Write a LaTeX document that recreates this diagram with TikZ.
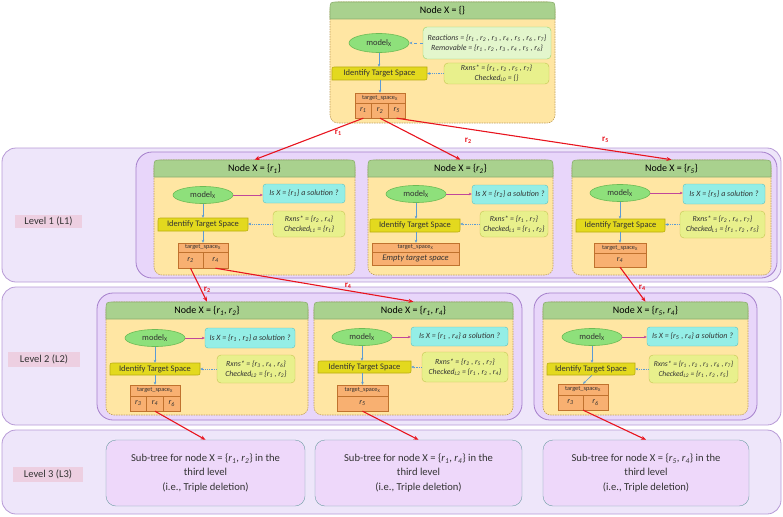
\documentclass[tikz,border=0pt]{standalone}
\usepackage{fontspec}
\setmainfont{Carlito}
\usetikzlibrary{calc,arrows.meta,shapes.geometric}
\definecolor{bandfill}{HTML}{EEE6FA}
\definecolor{banddraw}{HTML}{B79AD6}
\definecolor{contfill}{HTML}{E8D6FA}
\definecolor{contdraw}{HTML}{A57FCB}
\definecolor{lvlfill}{HTML}{EDCFE1}
\definecolor{hdrfill}{HTML}{A9D18E}
\definecolor{hdrdraw}{HTML}{8BAE6E}
\definecolor{bodyfill}{HTML}{FFE6A3}
\definecolor{bodydraw}{HTML}{BF9F5F}
\definecolor{ellfill}{HTML}{8EE07B}
\definecolor{elldraw}{HTML}{6CBB55}
\definecolor{reacfill}{HTML}{E3F6CC}
\definecolor{reacdraw}{HTML}{93D36B}
\definecolor{idfill}{HTML}{E3D91E}
\definecolor{iddraw}{HTML}{B9AD10}
\definecolor{rxfill}{HTML}{E8F08C}
\definecolor{rxdraw}{HTML}{C3C450}
\definecolor{cyfill}{HTML}{94EEE6}
\definecolor{cydraw}{HTML}{5BBFC0}
\definecolor{tgfill}{HTML}{F8B071}
\definecolor{tgdraw}{HTML}{C0722E}
\definecolor{redarr}{HTML}{E8141E}
\definecolor{bluearr}{HTML}{5B9BD5}
\definecolor{magarr}{HTML}{C0479A}
\definecolor{lthfill}{HTML}{EED8FA}
\definecolor{lthdraw}{HTML}{6E9EA4}
\definecolor{txt}{HTML}{333333}
\newcommand\ri[1]{\textit{r}\textsubscript{\textit{#1}}}
\newcommand\bx[7]{\node[#2,minimum width={(#5-#3)*1pt},minimum height={(#6-#4)*1pt},inner sep=0pt] (#1) at ({(#3+#5)/2},{(#4+#6)/2}) {#7};}
\newcommand\frm[6]{%
  \bx{#1}{body}{#2}{#3}{#4}{#5}{}
  \filldraw[hdr] (#2,{#3+17}) -- (#2,{#3+8}) .. controls (#2,#3) .. ({#2+8},#3) -- ({#4-8},#3) .. controls (#4,#3) .. (#4,{#3+8}) -- (#4,{#3+17}) -- cycle;
  \node[ttl] (#1-t) at ({(#2+#4)/2},{#3+9}) {#6};}
\newcommand\idbox[5]{%
  \filldraw[idshape] (#2,#5) -- (#2,{#3+4}) .. controls (#2,#3) .. ({#2+4},#3) -- (#4,#3) -- (#4,{#5-4}) .. controls (#4,#5) .. ({#4-4},#5) -- cycle;
  \bx{#1}{idtext}{#2}{#3}{#4}{#5}{Identify Target Space}}
\newcommand\modl[4]{\node[ell,minimum width=60pt,minimum height=#4pt] (#1) at (#2,#3) {model\textsubscript{X}};}
\tikzset{
  band/.style={draw=banddraw,fill=bandfill,rounded corners=14pt,line width=0.8pt},
  cont/.style={draw=contdraw,fill=contfill,rounded corners=16pt,line width=0.8pt},
  lvl/.style={fill=lvlfill,text=txt,font=\fontsize{10.5}{12}\selectfont},
  body/.style={draw=bodydraw,fill=bodyfill,dash pattern=on 1.5pt off 1pt,rounded corners=8pt,line width=0.6pt},
  hdr/.style={draw=hdrdraw,fill=hdrfill,line width=0.6pt},
  ttl/.style={font=\fontsize{10}{12}\selectfont,text=black},
  ell/.style={ellipse,draw=elldraw,fill=ellfill,inner sep=0pt,line width=0.6pt,text=txt,font=\fontsize{8.5}{10}\selectfont},
  reac/.style={draw=reacdraw,fill=reacfill,rounded corners=4pt,align=center,text=txt,font=\fontsize{7.9}{10}\selectfont\itshape},
  idshape/.style={draw=iddraw,fill=idfill,line width=0.6pt},
  idtext/.style={text=txt,font=\fontsize{8.5}{10}\selectfont},
  rxb/.style={draw=rxdraw,fill=rxfill,rounded corners=4pt,align=center,text=txt,font=\fontsize{7.8}{9.8}\selectfont\itshape},
  cyb/.style={draw=cydraw,fill=cyfill,rounded corners=3pt,text=txt,font=\fontsize{8}{9}\selectfont\itshape},
  tgh/.style={draw=tgdraw,fill=tgfill,text=txt,font=\fontsize{6.3}{7}\selectfont},
  tgc/.style={draw=tgdraw,fill=tgfill,text=txt,font=\fontsize{8}{9}\selectfont\itshape},
  lth/.style={draw=lthdraw,fill=lthfill,rounded corners=10pt,align=center,text=txt,font=\fontsize{10.6}{14.5}\selectfont},
  redarrow/.style={draw=redarr,line width=1.1pt,-{Stealth[length=5pt,width=4pt]}},
  rlab/.style={text=redarr,font=\fontsize{9}{10}\selectfont\bfseries},
  bluearrow/.style={draw=bluearr,line width=0.6pt,-{Stealth[length=3pt,width=2.6pt]}},
  dotarrow/.style={bluearrow,line width=0.8pt,densely dotted},
  dasharrow/.style={bluearrow,line width=0.8pt,dashed},
  magarrow/.style={draw=magarr,line width=0.6pt,-{Stealth[length=3pt,width=2.6pt]}}
}
\begin{document}
\begin{tikzpicture}[x=1pt,y=-1pt]
\useasboundingbox (0,0) rectangle (783,516);
% level bands
\bx{band1}{band}{2}{148}{781}{282}{}
\bx{band2}{band}{2}{287}{781}{425}{}
\bx{band3}{band}{2}{430}{781}{514}{}
\bx{cont1}{cont}{136}{152}{777}{278}{}
\bx{cont2}{cont}{97}{293}{522}{420}{}
\bx{cont3}{cont}{534}{293}{757}{420}{}
\bx{lab1}{lvl}{15}{215}{82}{228}{Level 1 (L1)}
\bx{lab2}{lvl}{8}{352}{80}{367}{Level 2 (L2)}
\bx{lab3}{lvl}{13}{467}{83}{482}{Level 3 (L3)}
% ---------- top node A
\frm{A}{330}{2}{555}{123}{Node X = \{\}}
\modl{Ael}{379}{43}{19}
\bx{Arc}{reac}{423}{27}{551}{59}{Reactions = \{\ri1 , \ri2 , \ri3 , \ri4 , \ri5 , \ri6 , \ri7\}\\Removable = \{\ri1 , \ri2 , \ri3 , \ri4 , \ri5 , \ri6\}}
\idbox{Aid}{332}{67}{427}{80}
\bx{Arx}{rxb}{444}{63}{549}{84}{Rxns* = \{\ri1 , \ri2 , \ri5 , \ri7\}\\Checked\textsubscript{L0} = \{\}}
\bx{Ath}{tgh}{355}{93}{405}{103}{target\_space\textsubscript{X}}
\bx{Aa}{tgc}{355}{103}{371.67}{118}{\ri1}
\bx{Ab}{tgc}{371.67}{103}{388.33}{118}{\ri2}
\bx{Ac}{tgc}{388.33}{103}{405}{118}{\ri5}
\draw[bluearrow] (Ael.south) -- (Ael.south |- Aid.north);
\draw[dasharrow] (Arc.west) -- (Ael.east);
\draw[dotarrow] (Arx.west) -- (Arx.west -| Aid.east);
\draw[bluearrow] (Ath.north |- Aid.south) -- (Ath.north);
% ---------- level 1: B
\frm{B}{154}{160}{355}{275}{Node X = \{\ri1\}}
\modl{Bel}{203}{195}{17}
\bx{Bcy}{cyb}{263}{184}{345}{203}{Is X = \{\ri1\} a solution ?}
\idbox{Bid}{158}{218}{248}{231}
\bx{Brx}{rxb}{273}{211}{345}{237}{Rxns* = \{\ri2 , \ri4\}\\Checked\textsubscript{L1} = \{\ri1\}}
\bx{Bth}{tgh}{178}{243}{228}{252}{target\_space\textsubscript{X}}
\bx{Ba}{tgc}{178}{252}{203}{268}{\ri2}
\bx{Bb}{tgc}{203}{252}{228}{268}{\ri4}
\draw[magarrow] (Bel.east) -- (Bel.east -| Bcy.west);
\draw[bluearrow] (Bel.south) -- (Bel.south |- Bid.north);
\draw[dotarrow] (Brx.west) -- (Brx.west -| Bid.east);
\draw[bluearrow] (Bth.north |- Bid.south) -- (Bth.north);
% C
\frm{C}{368}{160}{553}{275}{Node X = \{\ri2\}}
\modl{Cel}{416}{194}{17}
\bx{Ccy}{cyb}{472}{185}{548}{204}{Is X = \{\ri2\} a solution ?}
\idbox{Cid}{370}{219}{460}{232}
\bx{Crx}{rxb}{480}{211}{548}{237}{Rxns* = \{\ri1 , \ri7\}\\Checked\textsubscript{L1} = \{\ri1 , \ri2\}}
\bx{Cth}{tgh}{372}{243}{459}{252}{target\_space\textsubscript{X}}
\bx{Ca}{tgc,font=\fontsize{8.5}{10}\selectfont\itshape}{372}{252}{459}{265}{Empty target space}
\draw[magarrow] (Cel.east) -- (Cel.east -| Ccy.west);
\draw[bluearrow] (Cel.south) -- (Cel.south |- Cid.north);
\draw[dotarrow] (Crx.west) -- (Crx.west -| Cid.east);
\draw[bluearrow] (Cel.south |- Cid.south) -- (Cel.south |- Cth.north);
% D
\frm{D}{572}{160}{771}{275}{Node X = \{\ri5\}}
\modl{Del}{620}{193}{17}
\bx{Dcy}{cyb}{683}{184}{765}{204}{Is X = \{\ri5\} a solution ?}
\idbox{Did}{576}{219}{665}{232}
\bx{Drx}{rxb}{680}{211}{765}{238}{Rxns* = \{\ri2 , \ri4 , \ri7\}\\Checked\textsubscript{L1} = \{\ri1 , \ri2 , \ri5\}}
\bx{Dth}{tgh}{594}{243}{646}{253}{target\_space\textsubscript{X}}
\bx{Da}{tgc}{594}{253}{646}{267}{\ri4}
\draw[magarrow] (Del.east) -- (Del.east -| Dcy.west);
\draw[bluearrow] (Del.south) -- (Del.south |- Did.north);
\draw[dotarrow] (Drx.west) -- (Drx.west -| Did.east);
\draw[bluearrow] (Dth.north |- Did.south) -- (Dth.north);
% ---------- level 2: E
\frm{E}{106}{302}{308}{415}{Node X = \{\ri1, \ri2\}}
\modl{Eel}{155}{338}{17}
\bx{Ecy}{cyb}{205}{328}{295}{348}{Is X = \{\ri1 , \ri2\} a solution ?}
\idbox{Eid}{110}{363}{200}{375}
\bx{Erx}{rxb}{217}{355}{295}{383}{Rxns* = \{\ri3 , \ri4 , \ri6\}\\Checked\textsubscript{L2} = \{\ri1 , \ri2\}}
\bx{Eth}{tgh}{130}{385}{180}{396}{target\_space\textsubscript{X}}
\bx{Ea}{tgc}{130}{396}{146.67}{411}{\ri3}
\bx{Eb}{tgc}{146.67}{396}{163.33}{411}{\ri4}
\bx{Ec}{tgc}{163.33}{396}{180}{411}{\ri6}
\draw[magarrow] (Eel.east) -- (Eel.east -| Ecy.west);
\draw[bluearrow] (Eel.south) -- (Eel.south |- Eid.north);
\draw[dotarrow] (Erx.west) -- (Erx.west -| Eid.east);
\draw[bluearrow] (Eth.north |- Eid.south) -- (Eth.north);
% F
\frm{F}{314}{302}{513}{415}{Node X = \{\ri1, \ri4\}}
\modl{Fel}{362}{337}{17}
\bx{Fcy}{cyb}{411}{327}{508}{346}{Is X = \{\ri1 , \ri4\} a solution ?}
\idbox{Fid}{318}{361}{411}{373}
\bx{Frx}{rxb}{422}{352}{508}{382}{Rxns* = \{\ri2 , \ri5 , \ri7\}\\Checked\textsubscript{L2} = \{\ri1 , \ri2 , \ri4\}}
\bx{Fth}{tgh}{337}{385}{388}{396}{target\_space\textsubscript{X}}
\bx{Fa}{tgc}{337}{396}{388}{411}{\ri5}
\draw[magarrow] (Fel.east) -- (Fel.east -| Fcy.west);
\draw[bluearrow] (Fel.south) -- (Fel.south |- Fid.north);
\draw[dotarrow] (Frx.west) -- (Frx.west -| Fid.east);
\draw[bluearrow] (Fth.north |- Fid.south) -- (Fth.north);
% G
\frm{G}{543}{302}{748}{415}{Node X = \{\ri5, \ri4\}}
\modl{Gel}{592}{337}{17}
\bx{Gcy}{cyb}{647}{327}{738}{346}{Is X = \{\ri5 , \ri4\} a solution ?}
\idbox{Gid}{547}{363}{635}{375}
\bx{Grx}{rxb,font=\fontsize{7.5}{9.8}\selectfont\itshape}{649}{355}{738}{383}{Rxns* = \{\ri1 , \ri2 , \ri3 , \ri6 , \ri7\}\\Checked\textsubscript{L2} = \{\ri1 , \ri2 , \ri5\}}
\bx{Gth}{tgh}{558}{384}{608}{395}{target\_space\textsubscript{X}}
\bx{Ga}{tgc}{558}{395}{583}{410}{\ri3}
\bx{Gb}{tgc}{583}{395}{608}{410}{\ri6}
\draw[magarrow] (Gel.east) -- (Gel.east -| Gcy.west);
\draw[bluearrow] (Gel.south) -- (Gel.south |- Gid.north);
\draw[dotarrow] (Grx.west) -- (Grx.west -| Gid.east);
\draw[bluearrow] (Gel.south |- Gid.south) -- (Gth.north);
% ---------- level 3
\bx{H1}{lth}{106}{440}{305}{506}{Sub-tree for node X = \{\ri1, \ri2\} in the\\third level\\(i.e., Triple deletion)}
\bx{H2}{lth}{315}{440}{522}{506}{Sub-tree for node X = \{\ri1, \ri4\} in the\\third level\\(i.e., Triple deletion)}
\bx{H3}{lth}{543}{440}{749}{506}{Sub-tree for node X = \{\ri5, \ri4\} in the\\third level\\(i.e., Triple deletion)}
% ---------- red connectors
\draw[redarrow] (Aa.south) -- (B.north) node[rlab,pos=0.35,xshift=13pt] {r\textsubscript{1}};
\draw[redarrow] (Ab.south) -- (C.north) node[rlab,pos=0.55,xshift=44pt] {r\textsubscript{2}};
\draw[redarrow] (Ac.south) -- (D.north) node[rlab,pos=0.76,yshift=10pt] {r\textsubscript{5}};
\draw[redarrow] (Ba.south) -- (E.north) node[rlab,pos=0.65,xshift=6pt] {r\textsubscript{2}};
\draw[redarrow] (Bb.south) -- (F.north) node[rlab,pos=0.67,yshift=5pt] {r\textsubscript{4}};
\draw[redarrow] (Da.south) -- (G.north) node[rlab,pos=0.6,xshift=7pt] {r\textsubscript{4}};
\draw[redarrow] (Eb.south) -- (H1.north);
\draw[redarrow] (Fa.south) -- (H2.north);
\draw[redarrow] (Ga.south east) -- (H3.north);
\end{tikzpicture}
\end{document}
